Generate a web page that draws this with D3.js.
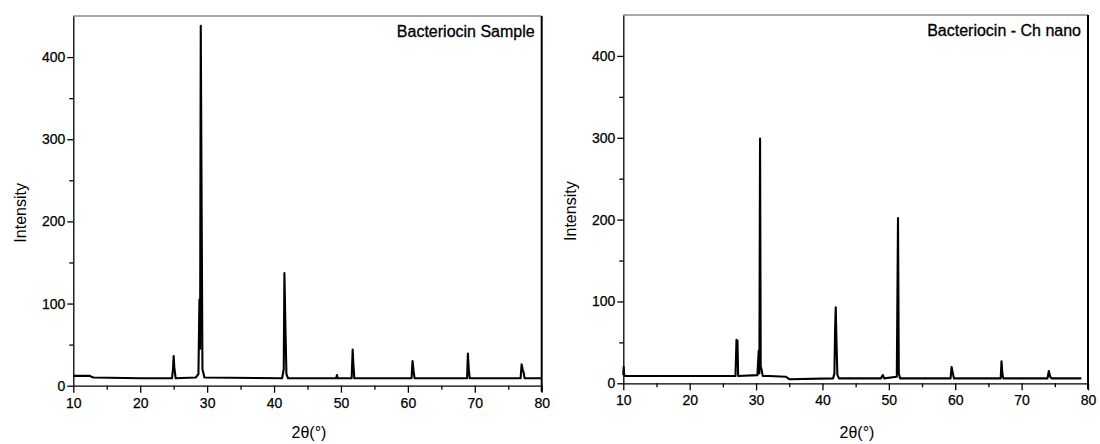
<!DOCTYPE html>
<html>
	<head>
		<meta http-equiv="Content-Type" content="text/html;charset=utf-8"/>
		<title>XRD patterns</title>
		<script src="https://d3js.org/d3.v7.min.js"></script>
		<style type="text/css">
			body { margin: 0; background: #fff; }
			text { font-family: "Liberation Sans", Arial, sans-serif; fill: #000; }
			.tick text { font-size: 14px; stroke: #000; stroke-width: 0.25; }
			.axis path, .axis line { stroke: #000; stroke-width: 1.3; }
			.trace { fill: none; stroke: #000; stroke-width: 2.1; stroke-linejoin: round; }
			.ptitle { font-family: "Liberation Sans Narrow", "Liberation Sans", sans-serif; font-size: 16px; stroke: #000; stroke-width: 0.3; }
		</style>
	</head>
	<body>
		<script type="text/javascript">

			//Axis ticks shared by both panels
			var xTicks = [10, 20, 30, 40, 50, 60, 70, 80],
				xMinor = [15, 25, 35, 45, 55, 65, 75],
				yTicks = [0, 100, 200, 300, 400],
				yMinor = [50, 150, 250, 350];

			//Bacteriocin sample: 2theta and intensity
			var sampleAngle = [10, 12.5, 12.7, 13, 20, 24.75, 24.9, 25.0, 25.1, 25.3, 28.3, 28.7, 28.85, 28.95, 29.05, 29.15, 29.3, 29.6,
				41.2, 41.45, 41.55, 41.7, 41.85, 42.1, 49.3, 49.4, 49.5, 51.6, 51.75, 51.85, 52.0, 60.55, 60.7, 60.85, 61.0,
				68.85, 68.97, 69.1, 69.25, 76.85, 77.0, 77.15, 77.3, 77.45, 80];
			var sampleIntensity = [12, 12, 11, 10, 9, 9, 20, 36, 22, 9, 10, 14, 105, 45, 438, 265, 20, 10,
				9, 20, 137, 72, 14, 9, 9, 13, 9, 9, 44, 27, 9, 9, 30, 18, 9,
				9, 39, 20, 9, 9, 26, 20, 16, 9, 9];

			//Bacteriocin - Ch nano: 2theta and intensity
			var nanoAngle = [10, 10.05, 10.15, 26.9, 27.05, 27.2, 27.3, 30.2, 30.4, 30.5, 30.6, 30.7, 30.8, 31, 32, 34.5, 35,
				41.6, 41.8, 41.9, 42.0, 42.1, 42.25, 42.5, 48.8, 49.1, 49.3, 51.2, 51.38, 51.5, 51.7, 59.3, 59.45, 59.6, 59.8,
				66.85, 66.97, 67.1, 67.25, 73.9, 74.1, 74.3, 74.5, 79];
			var nanoIntensity = [10, 20, 9, 9, 53, 52, 9, 10, 40, 12, 299, 20, 18, 9, 9, 8, 5,
				6, 12, 64, 93, 55, 10, 6, 6, 10, 6, 8, 202, 12, 6, 6, 20, 14, 6,
				6, 27, 12, 6, 6, 15, 8, 6, 6];

			var svg = d3.select("body").append("svg")
						.attr("width", 1100)
						.attr("height", 444);

			//Draw one XRD panel
			function panel(angle, intensity, title, left, right, top, bottom, yTitleX, xTitleX) {

				var x = d3.scaleLinear().domain([10, 80]).range([left, right]);
				var y = d3.scaleLinear().domain([0, 450]).range([bottom, top]);

				//frame: top and right
				svg.append("line")
					.attr("x1", left).attr("x2", right)
					.attr("y1", top).attr("y2", top)
					.attr("stroke", "#555").attr("stroke-width", 1);
				svg.append("line")
					.attr("x1", right).attr("x2", right)
					.attr("y1", top).attr("y2", bottom + 6)
					.attr("stroke", "#000").attr("stroke-width", 2);

				//minor ticks first
				svg.append("g").attr("class", "axis")
					.attr("transform", "translate(0," + bottom + ")")
					.call(d3.axisBottom(x).tickValues(xMinor).tickSize(4).tickFormat(""))
					.select(".domain").remove();
				svg.append("g").attr("class", "axis")
					.attr("transform", "translate(" + left + ",0)")
					.call(d3.axisLeft(y).tickValues(yMinor).tickSize(4).tickFormat(""))
					.select(".domain").remove();

				svg.append("g").attr("class", "axis")
					.attr("transform", "translate(0," + bottom + ")")
					.call(d3.axisBottom(x).tickValues(xTicks).tickSize(7).tickSizeOuter(0).tickPadding(5));
				svg.append("g").attr("class", "axis")
					.attr("transform", "translate(" + left + ",0)")
					.call(d3.axisLeft(y).tickValues(yTicks).tickSize(6).tickSizeOuter(0).tickPadding(2));

				var pts = angle.map(function(a, i) { return [a, intensity[i]]; });
				var line = d3.line()
					.x(function(d) { return x(d[0]); })
					.y(function(d) { return y(d[1]); });

				svg.append("path")
					.datum(pts)
					.attr("class", "trace")
					.attr("d", line);

				svg.append("text")
					.attr("class", "ptitle")
					.attr("x", right - 7)
					.attr("y", top + 21)
					.attr("text-anchor", "end")
					.text(title);

				svg.append("text")
					.attr("transform", "translate(" + yTitleX + "," + ((top + bottom) / 2 + 12) + ") rotate(-90)")
					.attr("text-anchor", "middle")
					.style("font-size", "16px")
					.text("Intensity");

				svg.append("text")
					.attr("x", xTitleX)
					.attr("y", 438)
					.attr("text-anchor", "middle")
					.style("font-size", "16px")
					.text("2θ(°)");
			}

			panel(sampleAngle, sampleIntensity, "Bacteriocin Sample", 73.3, 541.7, 16, 385.7, 26, 309);
			panel(nanoAngle, nanoIntensity, "Bacteriocin - Ch nano", 623.3, 1088, 15, 383.3, 576, 857);

		</script>
	</body>
</html>
